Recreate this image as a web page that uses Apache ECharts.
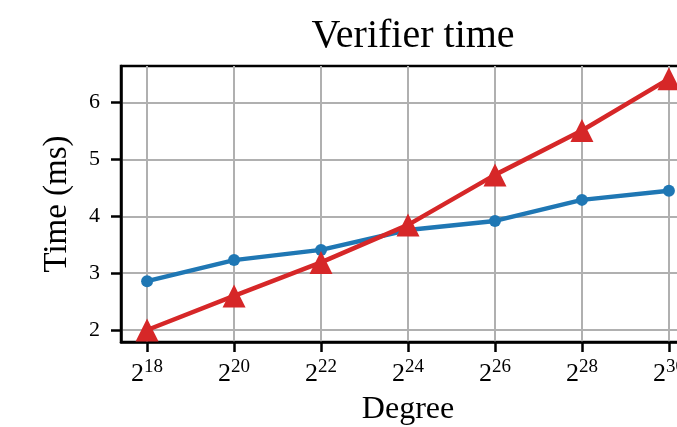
<!DOCTYPE html>
<html>
<head>
<meta charset="utf-8">
<script src="https://cdn.jsdelivr.net/npm/echarts@6/dist/echarts.min.js"></script>
<style>
  html, body { margin: 0; padding: 0; background: #fff; }
  #chart { width: 677px; height: 427px; }
</style>
</head>
<body>
<div id="chart"></div>
<script>
// exponents of the degree (2^k)
const degrees = [18, 20, 22, 24, 26, 28, 30];
const blueTimes = [2.86, 3.23, 3.41, 3.76, 3.92, 4.29, 4.45];
const redTimes = [2.0, 2.6, 3.19, 3.85, 4.73, 5.51, 6.42];
const yTicks = [2, 3, 4, 5, 6];

const serif = '"Liberation Serif", "DejaVu Serif", serif';

const chart = echarts.init(document.getElementById('chart'));
chart.setOption({
  animation: false,
  backgroundColor: '#fff',
  title: {
    text: 'Verifier time',
    left: 408,
    textAlign: 'center',
    top: 11,
    textStyle: { fontFamily: serif, fontSize: 40, fontWeight: 'normal', color: '#000' }
  },
  grid: {
    left: 121, top: 66, right: -18, bottom: 85,
    outerBoundsMode: 'none',
    show: true, borderColor: '#000', borderWidth: 2.5, backgroundColor: '#fff'
  },
  xAxis: {
    type: 'value',
    min: 17.4, max: 30.6,
    name: 'Degree',
    nameLocation: 'middle',
    nameGap: 52,
    nameTextStyle: { fontFamily: serif, fontSize: 32, color: '#000' },
    axisLine: { onZero: false, lineStyle: { color: '#000', width: 2.5 } },
    axisTick: { customValues: degrees, length: 10, lineStyle: { color: '#000', width: 2.5 } },
    splitLine: { show: true, lineStyle: { color: '#b0b0b0', width: 2 } },
    axisLabel: {
      customValues: degrees,
      margin: 16,
      formatter: v => '{b|2}{s|' + v + '}',
      rich: {
        b: { fontFamily: serif, fontSize: 26, color: '#000', lineHeight: 30 },
        s: { fontFamily: serif, fontSize: 19, color: '#000', padding: [0, 0, 14, 0] }
      }
    }
  },
  yAxis: {
    type: 'value',
    min: 1.789, max: 6.646,
    name: 'Time (ms)',
    nameLocation: 'middle',
    nameGap: 47,
    nameTextStyle: { fontFamily: serif, fontSize: 33, color: '#000' },
    axisLine: { lineStyle: { color: '#000', width: 2.5 } },
    axisTick: { customValues: yTicks, length: 10, lineStyle: { color: '#000', width: 2.5 } },
    splitLine: { show: true, lineStyle: { color: '#b0b0b0', width: 2 } },
    axisLabel: {
      customValues: yTicks,
      margin: 21,
      fontFamily: serif, fontSize: 22, color: '#000'
    }
  },
  series: [
    {
      type: 'line',
      data: degrees.map((d, i) => [d, blueTimes[i]]),
      color: '#1f77b4',
      lineStyle: { width: 4.5 },
      symbol: 'circle',
      symbolSize: 12,
      itemStyle: { color: '#1f77b4' }
    },
    {
      type: 'line',
      data: degrees.map((d, i) => [d, redTimes[i]]),
      color: '#d62728',
      lineStyle: { width: 4.5 },
      symbol: 'triangle',
      symbolSize: 23,
      itemStyle: { color: '#d62728' }
    }
  ]
});
</script>
</body>
</html>
